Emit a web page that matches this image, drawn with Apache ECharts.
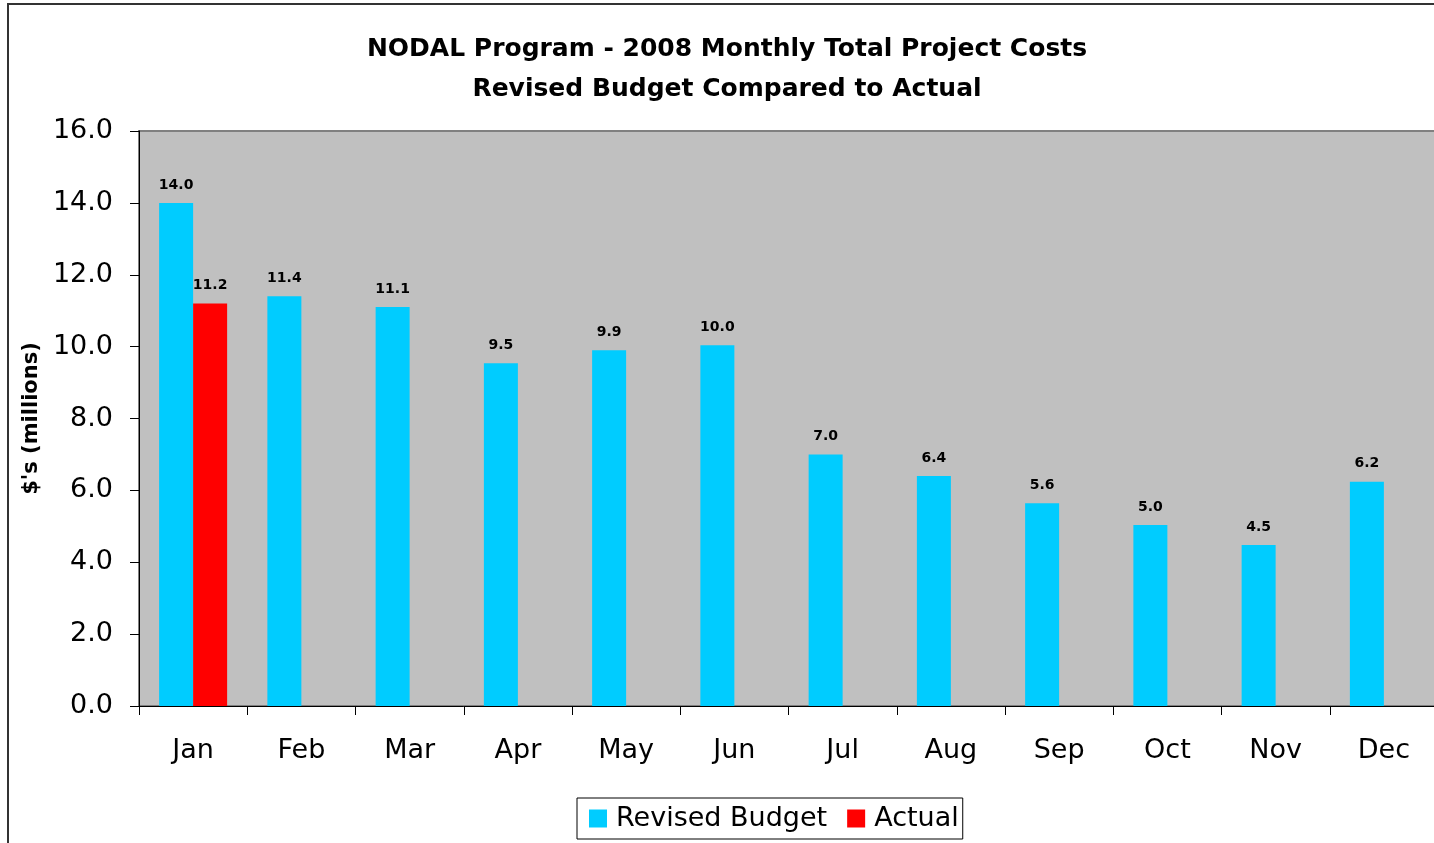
<!DOCTYPE html>
<html>
<head>
<meta charset="utf-8">
<script src="https://cdn.jsdelivr.net/npm/echarts@6/dist/echarts.min.js"></script>
<style>
  html, body { margin: 0; padding: 0; background: #fff; overflow: hidden; }
  #frame { position: absolute; left: 7px; top: 3px; width: 1500px; height: 900px;
           border-left: 2px solid #333; border-top: 2px solid #333; }
  #chart { position: absolute; left: 0; top: 0; width: 1454px; height: 843px; }
</style>
</head>
<body>
<div id="frame"></div>
<div id="chart"></div>
<script>
const months = ['Jan', 'Feb', 'Mar', 'Apr', 'May', 'Jun', 'Jul', 'Aug', 'Sep', 'Oct', 'Nov', 'Dec'];
const revisedBudget = [14.0, 11.4, 11.1, 9.54, 9.9, 10.04, 7.0, 6.4, 5.64, 5.04, 4.48, 6.24];
const actual = [11.2, null, null, null, null, null, null, null, null, null, null, null];
const yTicks = [0, 2, 4, 6, 8, 10, 12, 14, 16];

const FONT = 'DejaVu Sans, Arial, sans-serif';

const chart = echarts.init(document.getElementById('chart'));

const barLabel = {
  show: true,
  position: 'top',
  distance: 11,
  fontFamily: FONT,
  fontWeight: 'bold',
  fontSize: 14,
  color: '#000',
  formatter: (p) => (p.value == null ? '' : p.value.toFixed(1))
};

const option = {
  animation: false,
  title: {
    text: 'NODAL Program - 2008 Monthly Total Project Costs\nRevised Budget Compared to Actual',
    left: 'center',
    top: 24,
    textStyle: {
      fontFamily: FONT,
      fontWeight: 'bold',
      fontSize: 25,
      lineHeight: 40,
      color: '#000'
    }
  },
  legend: {
    left: 577,
    top: 798,
    itemWidth: 18,
    itemHeight: 18,
    itemGap: 20,
    padding: [7, 4, 7, 12],
    borderColor: '#000',
    borderWidth: 1,
    icon: 'rect',
    textStyle: {
      fontFamily: FONT,
      fontSize: 27,
      color: '#000',
      padding: [0, 0, 0, 4]
    }
  },
  grid: {
    left: 139,
    top: 131,
    right: 16,
    bottom: 137,
    show: true,
    backgroundColor: '#C0C0C0',
    borderColor: '#808080',
    borderWidth: 2
  },
  xAxis: {
    type: 'category',
    data: months,
    axisLine: { lineStyle: { color: '#000', width: 1 } },
    axisTick: { show: true, length: 9, lineStyle: { color: '#000' } },
    axisLabel: {
      fontFamily: FONT,
      fontSize: 27,
      color: '#000',
      margin: 31
    }
  },
  yAxis: {
    type: 'value',
    min: 0,
    max: 16,
    interval: 2,
    name: "$'s (millions)",
    nameLocation: 'middle',
    nameGap: 97,
    nameTextStyle: {
      fontFamily: FONT,
      fontWeight: 'bold',
      fontSize: 21,
      color: '#000'
    },
    axisLine: { show: true, lineStyle: { color: '#000', width: 1 } },
    axisTick: { show: true, length: 9, lineStyle: { color: '#000' } },
    splitLine: { show: false },
    axisLabel: {
      fontFamily: FONT,
      fontSize: 27,
      color: '#000',
      margin: 26,
      formatter: (v) => (yTicks.includes(v) ? v.toFixed(1) : '')
    }
  },
  series: [
    {
      name: 'Revised Budget',
      type: 'bar',
      data: revisedBudget,
      barWidth: 34,
      barGap: '0%',
      itemStyle: { color: '#00CCFF' },
      label: barLabel
    },
    {
      name: 'Actual',
      type: 'bar',
      data: actual,
      barWidth: 34,
      barGap: '0%',
      itemStyle: { color: '#FF0000' },
      label: barLabel
    }
  ]
};

chart.setOption(option);
</script>
</body>
</html>
